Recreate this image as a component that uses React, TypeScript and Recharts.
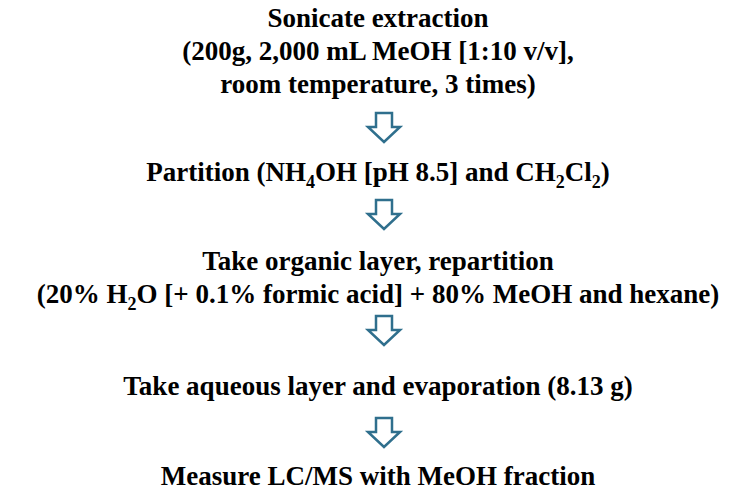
import { ScatterChart, Scatter, XAxis, YAxis } from "recharts";

// flow steps, one entry per printed line; "_{n}" marks a subscript
const stepLines = [
  "Sonicate extraction",
  "(200g, 2,000 mL MeOH [1:10 v/v],",
  "room temperature, 3 times)",
  "Partition (NH_{4}OH [pH 8.5] and CH_{2}Cl_{2})",
  "Take organic layer, repartition",
  "(20% H_{2}O [+ 0.1% formic acid] + 80% MeOH and hexane)",
  "Take aqueous layer and evaporation (8.13 g)",
  "Measure LC/MS with MeOH fraction",
];
// baseline of each line, in page pixels (y axis runs 0..491 top-down)
const lineY = [27, 60, 93, 181, 270, 303, 395, 485];
// top of each arrow between steps
const arrowY = [113, 200, 316, 418];

const W = 731;
const H = 491;
const CX = 384;
const TX = 378;
const ARROW = "#2f6f8d";
const FONT = "Liberation Serif, Times New Roman, Times, serif";

const textData = stepLines.map((t, i) => ({ x: TX, y: lineY[i], label: t }));
const arrowData = arrowY.map((y) => ({ x: CX, y }));

function parts(s: string) {
  const out: { t: string; sub: boolean }[] = [];
  const re = /_\{([^}]*)\}/g;
  let last = 0;
  let m;
  while ((m = re.exec(s))) {
    if (m.index > last) out.push({ t: s.slice(last, m.index), sub: false });
    out.push({ t: m[1], sub: true });
    last = m.index + m[0].length;
  }
  if (last < s.length) out.push({ t: s.slice(last), sub: false });
  return out;
}

const LineLabel = (props: any) => {
  const { cx, cy, payload } = props;
  const ps = parts(payload.label);
  return (
    <text
      x={cx}
      y={cy}
      textAnchor="middle"
      style={{ fontFamily: FONT, fontWeight: 700, fontSize: 27 }}
      fill="#000"
    >
      {ps.map((p, i) =>
        p.sub ? (
          <tspan key={i} dy={7} style={{ fontSize: 18 }}>
            {p.t}
          </tspan>
        ) : (
          <tspan key={i} dy={i > 0 && ps[i - 1].sub ? -7 : 0}>
            {p.t}
          </tspan>
        )
      )}
    </text>
  );
};

const DownArrow = (props: any) => {
  const { cx, cy } = props;
  const hw = 16; // head half width
  const sw = 8; // shaft half width
  const sh = 14; // shaft height
  const h = 29;
  const d = `M${cx - sw},${cy} L${cx + sw},${cy} L${cx + sw},${cy + sh} L${cx + hw},${cy + sh} L${cx},${cy + h} L${cx - hw},${cy + sh} L${cx - sw},${cy + sh} Z`;
  return <path d={d} fill="#fff" stroke={ARROW} strokeWidth={2.5} strokeLinejoin="miter" />;
};

export default function App() {
  return (
    <div style={{ position: "absolute", left: 0, top: 0, background: "#fff" }}>
      <ScatterChart width={W} height={H} margin={{ top: 0, right: 0, bottom: 0, left: 0 }}>
        <XAxis type="number" dataKey="x" domain={[0, W]} hide />
        <YAxis type="number" dataKey="y" domain={[0, H]} reversed hide />
        <Scatter data={arrowData} shape={DownArrow} isAnimationActive={false} />
        <Scatter data={textData} shape={LineLabel} isAnimationActive={false} />
      </ScatterChart>
    </div>
  );
}
